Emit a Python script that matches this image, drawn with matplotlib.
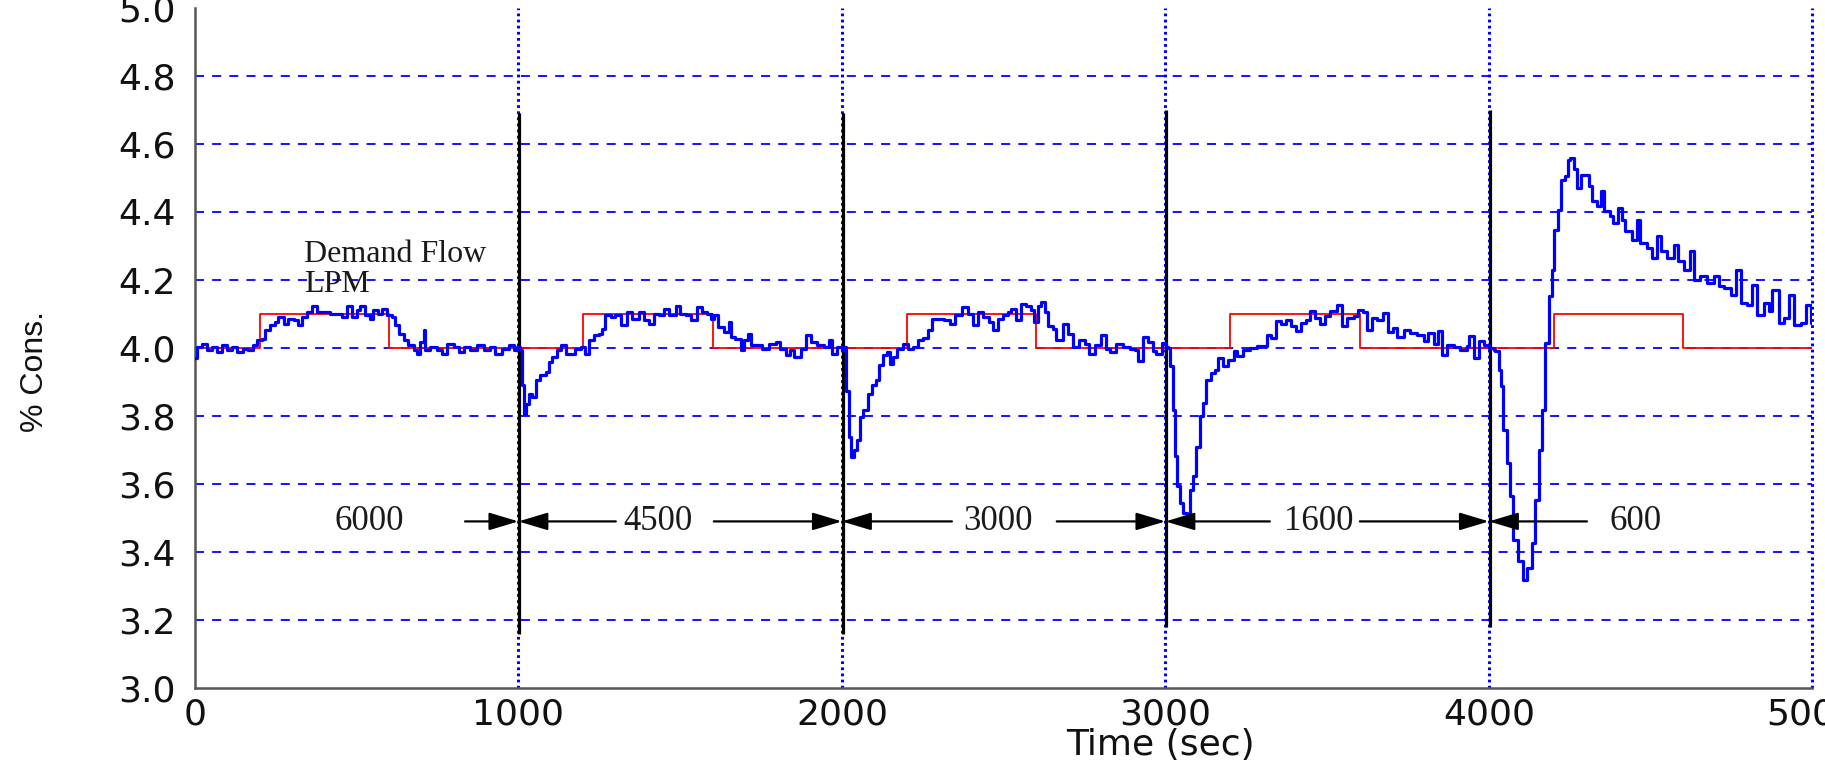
import matplotlib
matplotlib.use("Agg")
import matplotlib.pyplot as plt
import numpy as np

t1 = [0, 5, 21, 36, 52, 67, 83, 98, 114, 129, 150, 165, 181, 191, 207, 217, 232, 248, 258, 274,
      289, 305, 320, 330, 346, 361, 377, 397, 418, 438, 454, 470, 485, 500, 511, 526, 542, 552,
      567, 578, 593, 609, 619, 630, 645, 660, 676, 686, 697, 707, 712, 728, 748, 764, 779, 800,
      815, 831, 851, 872, 893, 913, 929, 949, 970, 985, 996]
c1 = [3.97, 4.003, 4.013, 3.993, 4.003, 3.988, 4.008, 3.993, 4.003, 3.988, 3.998, 3.993, 4.008,
      4.023, 4.027, 4.052, 4.067, 4.076, 4.091, 4.072, 4.086, 4.081, 4.067, 4.091, 4.106, 4.125,
      4.106, 4.106, 4.101, 4.101, 4.091, 4.125, 4.091, 4.111, 4.125, 4.096, 4.086, 4.111, 4.101,
      4.116, 4.096, 4.091, 4.067, 4.042, 4.023, 4.008, 3.993, 3.983, 4.018, 4.052, 3.993, 4.003,
      3.993, 3.983, 4.013, 4.003, 3.988, 4.003, 3.993, 4.008, 3.993, 4.003, 3.983, 3.998, 4.008,
      3.993, 4.003]

t2 = [1006, 1011, 1016, 1025, 1032, 1042, 1053, 1068, 1084, 1094, 1104, 1120, 1132, 1146, 1161,
      1176, 1192, 1207, 1218, 1233, 1249, 1259, 1269, 1285, 1300, 1316, 1336, 1352, 1373, 1388,
      1404, 1419, 1435, 1450, 1465, 1486, 1501, 1517, 1532, 1553, 1568, 1584, 1594, 1604, 1616,
      1635, 1650, 1658, 1671, 1687, 1697, 1709, 1720, 1738, 1754, 1774, 1795, 1810, 1826, 1841,
      1853, 1872, 1888, 1903, 1924, 1944, 1960, 1970, 1986, 2001]
c2 = [3.993, 3.89, 3.807, 3.836, 3.866, 3.856, 3.905, 3.92, 3.929, 3.959, 3.974, 3.993, 4.008,
      3.983, 3.983, 3.998, 4.003, 3.983, 4.023, 4.037, 4.042, 4.057, 4.096, 4.091, 4.096, 4.067,
      4.106, 4.086, 4.106, 4.081, 4.072, 4.101, 4.096, 4.116, 4.096, 4.125, 4.101, 4.096, 4.081,
      4.121, 4.106, 4.101, 4.086, 4.096, 4.062, 4.047, 4.076, 4.032, 4.027, 3.993, 4.023, 4.042,
      4.008, 4.008, 3.998, 4.013, 4.018, 3.998, 3.978, 3.993, 3.974, 3.998, 4.037, 4.018, 4.008,
      4.003, 4.023, 3.983, 4.003, 3.993]

t3 = [2007, 2014, 2021, 2028, 2038, 2048, 2056, 2066, 2080, 2093, 2105, 2116, 2126, 2138, 2149,
      2159, 2170, 2188, 2203, 2219, 2234, 2250, 2265, 2279, 2296, 2317, 2335, 2351, 2372, 2389,
      2404, 2420, 2435, 2454, 2466, 2482, 2497, 2513, 2523, 2538, 2554, 2569, 2585, 2595, 2605,
      2616, 2628, 2638, 2652, 2662, 2683, 2698, 2714, 2732, 2750, 2765, 2781, 2802, 2817, 2828,
      2848, 2869, 2889, 2905, 2915, 2931, 2946, 2962, 2972, 2988, 3001]
c3 = [4.003, 3.875, 3.738, 3.68, 3.70, 3.728, 3.797, 3.817, 3.866, 3.89, 3.905, 3.949, 3.978,
      3.988, 3.954, 3.974, 3.998, 4.013, 3.998, 4.003, 4.023, 4.03, 4.052, 4.086, 4.086, 4.081,
      4.07, 4.096, 4.121, 4.101, 4.067, 4.106, 4.091, 4.076, 4.052, 4.086, 4.096, 4.106, 4.116,
      4.081, 4.13, 4.125, 4.111, 4.076, 4.125, 4.135, 4.106, 4.064, 4.057, 4.023, 4.07, 4.042,
      4.003, 4.023, 4.013, 3.981, 4.008, 4.037, 3.998, 3.988, 4.013, 4.003, 3.998, 3.993, 3.962,
      4.032, 4.018, 3.991, 3.981, 4.015, 4.003]

t4 = [3008, 3015, 3022, 3029, 3036, 3044, 3055, 3067, 3075, 3086, 3096, 3106, 3117, 3127, 3140,
      3153, 3163, 3179, 3194, 3212, 3222, 3241, 3261, 3282, 3300, 3315, 3325, 3341, 3356, 3372,
      3387, 3403, 3418, 3434, 3447, 3462, 3478, 3493, 3509, 3530, 3545, 3561, 3582, 3596, 3610,
      3622, 3638, 3653, 3674, 3689, 3705, 3717, 3736, 3756, 3777, 3798, 3813, 3829, 3844, 3855,
      3870, 3891, 3912, 3932, 3939, 3955, 3968, 3984, 3999, 4015]
c4 = [4.0, 3.946, 3.819, 3.681, 3.593, 3.544, 3.515, 3.50, 3.583, 3.623, 3.71, 3.80, 3.838, 3.907,
      3.926, 3.936, 3.971, 3.946, 3.966, 3.99, 3.977, 3.995, 4.0, 4.005, 4.007, 4.039, 4.029,
      4.078, 4.072, 4.083, 4.066, 4.049, 4.074, 4.083, 4.108, 4.088, 4.072, 4.093, 4.108, 4.127,
      4.066, 4.088, 4.093, 4.113, 4.105, 4.052, 4.088, 4.081, 4.103, 4.046, 4.059, 4.032, 4.054,
      4.044, 4.037, 4.02, 4.044, 4.013, 4.049, 3.98, 4.01, 4.003, 3.995, 4.005, 4.034, 3.971,
      4.02, 4.01, 4.0, 3.995]

t5 = [4020, 4030, 4038, 4045, 4056, 4066, 4076, 4090, 4104, 4118, 4133, 4144, 4154, 4164, 4174,
      4185, 4195, 4202, 4213, 4223, 4234, 4244, 4252, 4263, 4273, 4284, 4297, 4308, 4318, 4333,
      4347, 4357, 4373, 4383, 4399, 4410, 4422, 4441, 4457, 4467, 4488, 4503, 4519, 4532, 4550,
      4571, 4584, 4602, 4623, 4633, 4654, 4675, 4695, 4711, 4727, 4747, 4763, 4778, 4799, 4814,
      4830, 4851, 4866, 4876, 4897, 4913, 4928, 4943, 4964, 4980, 4995, 5010]
c5 = [3.99, 3.936, 3.887, 3.76, 3.662, 3.564, 3.436, 3.373, 3.319, 3.353, 3.426, 3.554, 3.70,
      3.819, 4.015, 4.152, 4.23, 4.348, 4.407, 4.495, 4.505, 4.554, 4.559, 4.525, 4.471, 4.51,
      4.51, 4.475, 4.431, 4.417, 4.461, 4.402, 4.387, 4.368, 4.412, 4.377, 4.343, 4.319, 4.377,
      4.309, 4.294, 4.265, 4.328, 4.284, 4.265, 4.304, 4.255, 4.23, 4.284, 4.201, 4.211, 4.191,
      4.211, 4.181, 4.176, 4.157, 4.23, 4.132, 4.127, 4.186, 4.098, 4.132, 4.108, 4.172, 4.074,
      4.088, 4.157, 4.069, 4.074, 4.127, 4.074, 4.049]

# demand flow step signal
demand_t = [0, 200, 600, 1200, 1600, 2200, 2600, 3200, 3600, 4200, 4600, 5000]
demand_c = [4.0, 4.1, 4.0, 4.1, 4.0, 4.1, 4.0, 4.1, 4.0, 4.1, 4.0, 4.0]

# black markers where the demand rate changes
cut_t = [1003, 2003, 3003, 4003]
cut_top = [4.69, 4.69, 4.70, 4.70]
cut_bot = [3.16, 3.16, 3.18, 3.18]

# interval labels and arrows
rate_labels = ["6000", "4500", "3000", "1600", "600"]
rate_x = [538, 1430, 2484, 3475, 4453]
arrow_from = [835, 1301, 1604, 2340, 2664, 3323, 3601, 4303]
arrow_to = [1000, 1000, 2000, 2000, 3000, 3000, 4000, 4000]
arrow_y = 3.49

yticks = [3.0, 3.2, 3.4, 3.6, 3.8, 4.0, 4.2, 4.4, 4.6, 4.8, 5.0]
xticks = [0, 1000, 2000, 3000, 4000, 5000]

t_all = t1 + t2 + t3 + t4 + t5
c_all = c1 + c2 + c3 + c4 + c5

fig = plt.figure(figsize=(18.25, 7.61), dpi=100)
ax = fig.add_axes([0.1068, 0.0959, 0.8863, 0.8936])
ax.set_xlim(0, 5000)
ax.set_ylim(3.0, 5.0)

# grid
for y in yticks[1:-1]:
    ax.axhline(y, color="#0000ff", lw=1.3, dashes=(5, 4.5), zorder=1)
for x in xticks[1:]:
    ax.axvline(x, color="#0000ff", lw=2.2, dashes=(0.9, 1.1), zorder=1, clip_on=False)

ax.plot(demand_t, demand_c, color="#ff0000", lw=1.3, drawstyle="steps-post", zorder=2)
ax.vlines(cut_t, cut_bot, cut_top, color="black", lw=2.3, zorder=3)
ax.plot(t_all, c_all, color="#0000ff", lw=2.3, drawstyle="steps-post", zorder=4)

for x0, x1 in zip(arrow_from, arrow_to):
    ax.annotate("", xy=(x1, arrow_y), xytext=(x0, arrow_y),
                arrowprops=dict(arrowstyle="-|>,head_length=0.9,head_width=0.27",
                                color="black", lw=1.6, shrinkA=0, shrinkB=0,
                                mutation_scale=20), zorder=5)
for lab, x in zip(rate_labels, rate_x):
    ax.text(x, arrow_y, lab, ha="center", va="center", family="Liberation Serif",
            fontsize=25, color="#1a1a1a", zorder=6)

ax.text(337, 4.252, "Demand Flow", ha="left", va="baseline", family="Liberation Serif",
        fontsize=23, color="#1a1a1a")
ax.text(337, 4.166, "LPM", ha="left", va="baseline", family="Liberation Serif",
        fontsize=23, color="#1a1a1a")

ax.set_xticks(xticks)
ax.set_yticks(yticks)
ax.set_yticklabels([f"{v:.1f}" for v in yticks])
ax.tick_params(length=0, labelsize=26, colors="#111111")
ax.tick_params(axis="y", pad=14)
ax.tick_params(axis="x", pad=7)
for lab in ax.get_xticklabels() + ax.get_yticklabels():
    lab.set_family("DejaVu Sans")

for s in ["top", "right"]:
    ax.spines[s].set_visible(False)
for s in ["left", "bottom"]:
    ax.spines[s].set_color("#555555")
    ax.spines[s].set_linewidth(1.8)

ax.set_xlabel("Time (sec)", family="DejaVu Sans", fontsize=26, color="#111111")
ax.xaxis.set_label_coords(0.597, -0.084)
ax.xaxis.label.set_va("center")
ax.set_ylabel("% Cons.", family="Liberation Sans", fontsize=23, color="#111111")
ax.yaxis.set_label_coords(-0.099, 0.465)
ax.yaxis.label.set_va("center")

fig.savefig("out.png", dpi=100, facecolor="white")
